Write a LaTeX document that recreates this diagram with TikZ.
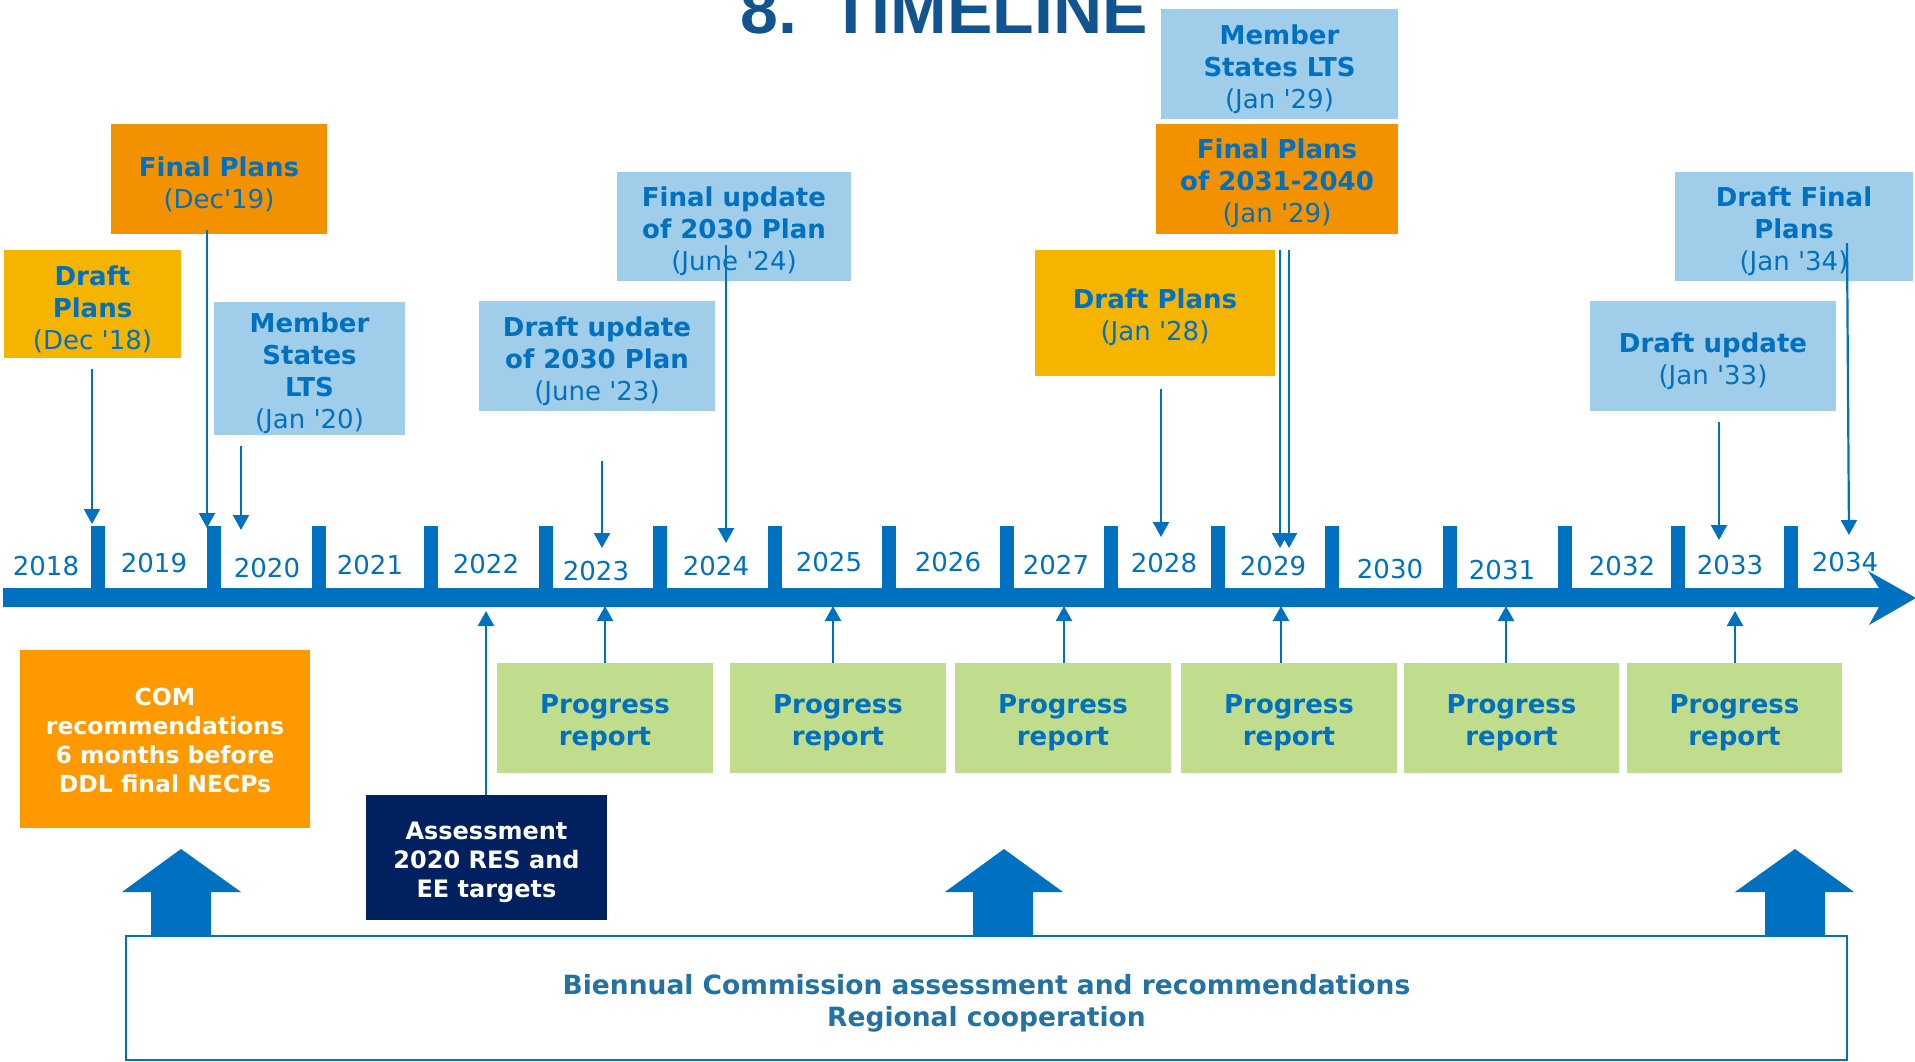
\documentclass[tikz,border=0pt]{standalone}
\usepackage{fontspec}
\setmainfont{DejaVu Sans}
\newfontfamily\titlefont{Liberation Sans}
\usetikzlibrary{arrows.meta}
\definecolor{tblue}{HTML}{0070C0}
\definecolor{ttitle}{HTML}{11548F}
\definecolor{tbien}{HTML}{2471A3}
\definecolor{cyellow}{HTML}{F4B400}
\definecolor{corange}{HTML}{F39200}
\definecolor{ccom}{HTML}{FF9900}
\definecolor{clblue}{HTML}{9FCDEA}
\definecolor{cgreen}{HTML}{BFDD8C}
\definecolor{cnavy}{HTML}{002060}
\newcommand{\myq}{\textquotesingle}
\newcommand{\sh}[1]{\rule{0pt}{#1pt}}
\tikzset{
  box/.style={rectangle, inner sep=0pt, align=center, text=tblue,
    font=\fontsize{26}{32}\selectfont},
  ybox/.style={box, fill=cyellow},
  obox/.style={box, fill=corange},
  lbbox/.style={box, fill=clblue},
  gbox/.style={box, fill=cgreen},
  wbox/.style={rectangle, inner sep=0pt, align=center, text=white,
    font=\bfseries\fontsize{24}{29}\selectfont},
  yr/.style={inner sep=0pt, anchor=base, text=tblue, font=\fontsize{26}{30}\selectfont},
  tick/.style={fill=tblue},
  thinarrow/.style={draw=tblue, line width=2.2pt, -{Triangle[width=16pt,length=15pt]}},
  bigarrow/.style={fill=tblue},
}
\begin{document}
\begin{tikzpicture}[x=1pt,y=-1pt]
\useasboundingbox (0,0) rectangle (1915,1061);

% title
\node[inner sep=0pt, anchor=base west, text=ttitle, font=\titlefont\bfseries\fontsize{68}{70}\selectfont]
  (title) at (740,33) {8. \kern8pt TIMELINE};

% timeline bar with arrow head
\path[fill=tblue] (3,588) -- (1879,588) -- (1868,571) -- (1916,598) -- (1869,625) -- (1879,607) -- (3,607) -- cycle;

% ticks
\foreach \x in {98,214,319,431,546,660,775,889,1007,1111,1218,1332,1450,1565,1678,1791}
  \path[tick] (\x-7,526) rectangle (\x+7,588);

% years
\node[yr] (y2018) at (46,575) {2018};
\node[yr] (y2019) at (154,572) {2019};
\node[yr] (y2020) at (267,577) {2020};
\node[yr] (y2021) at (370,574) {2021};
\node[yr] (y2022) at (486,573) {2022};
\node[yr] (y2023) at (596,580) {2023};
\node[yr] (y2024) at (716,575) {2024};
\node[yr] (y2025) at (829,571) {2025};
\node[yr] (y2026) at (948,571) {2026};
\node[yr] (y2027) at (1056,574) {2027};
\node[yr] (y2028) at (1164,572) {2028};
\node[yr] (y2029) at (1273,575) {2029};
\node[yr] (y2030) at (1390,578) {2030};
\node[yr] (y2031) at (1502,579) {2031};
\node[yr] (y2032) at (1622,575) {2032};
\node[yr] (y2033) at (1730,574) {2033};
\node[yr] (y2034) at (1845,571) {2034};

% upper boxes
\node[ybox, minimum width=177pt, minimum height=108pt] (dp18) at (92.5,304)
  {\sh{30}\bfseries Draft\\\bfseries Plans\\(Dec \myq18)};
\node[obox, minimum width=216pt, minimum height=110pt] (fp19) at (219,179)
  {\sh{30}\bfseries Final Plans\\(Dec\myq19)};
\node[lbbox, minimum width=191pt, minimum height=133pt] (ms20) at (309.5,368.5)
  {\sh{30}\bfseries Member\\\bfseries States\\\bfseries LTS\\(Jan \myq20)};
\node[lbbox, minimum width=236pt, minimum height=110pt] (du23) at (597,356)
  {\sh{30}\bfseries Draft update\\\bfseries of 2030 Plan\\(June \myq23)};
\node[lbbox, minimum width=234pt, minimum height=109pt] (fu24) at (734,226.5)
  {\sh{30}\bfseries Final update\\\bfseries of 2030 Plan\\(June \myq24)};
\node[lbbox, minimum width=237pt, minimum height=110pt] (ms29) at (1279.5,64)
  {\sh{30}\bfseries Member\\\bfseries States LTS\\(Jan \myq29)};
\node[obox, minimum width=242pt, minimum height=110pt] (fp29) at (1277,179)
  {\sh{29}\bfseries Final Plans\\\bfseries of 2031-2040\\(Jan \myq29)};
\node[ybox, minimum width=240pt, minimum height=126pt] (dp28) at (1155,313)
  {\sh{28}\bfseries Draft Plans\\(Jan \myq28)};
\node[lbbox, minimum width=238pt, minimum height=109pt] (dfp34) at (1794,226.5)
  {\sh{30}\bfseries Draft Final\\\bfseries Plans\\(Jan \myq34)};
\node[lbbox, minimum width=246pt, minimum height=110pt] (du33) at (1713,356)
  {\sh{30}\bfseries Draft update\\(Jan \myq33)};

% down arrows
\coordinate (s1) at (92,369);   \coordinate (t1) at (92,524);
\coordinate (t2) at (207,528);
\coordinate (s3) at (241,446);  \coordinate (t3) at (241,530);
\coordinate (s4) at (602,461);  \coordinate (t4) at (602,548);
\coordinate (s5) at (726,245);  \coordinate (t5) at (726,543);
\coordinate (s6) at (1161,389); \coordinate (t6) at (1161,537);
\coordinate (s7) at (1280,250); \coordinate (t7) at (1280,548);
\coordinate (s8) at (1289,250); \coordinate (t8) at (1289,548);
\coordinate (s9) at (1719,422); \coordinate (t9) at (1719,540);
\coordinate (s10) at (1847,243); \coordinate (t10) at (1849,535);
\draw[thinarrow] (s1) -- (t1);
\draw[thinarrow] ([yshift=4pt]fp19.south -| t2) -- (t2);
\draw[thinarrow] (s3) -- (t3);
\draw[thinarrow] (s4) -- (t4);
\draw[thinarrow] (s5) -- (t5);
\draw[thinarrow] (s6) -- (t6);
\draw[thinarrow] (s7) -- (t7);
\draw[thinarrow] (s8) -- (t8);
\draw[thinarrow] (s9) -- (t9);
\draw[thinarrow] (s10) -- (t10);

% lower boxes
\node[gbox, minimum width=216pt, minimum height=110pt] (p1) at (605,718) {\sh{29}\bfseries Progress\\\bfseries report};
\node[gbox, minimum width=216pt, minimum height=110pt] (p2) at (838,718) {\sh{29}\bfseries Progress\\\bfseries report};
\node[gbox, minimum width=216pt, minimum height=110pt] (p3) at (1063,718) {\sh{29}\bfseries Progress\\\bfseries report};
\node[gbox, minimum width=216pt, minimum height=110pt] (p4) at (1289,718) {\sh{29}\bfseries Progress\\\bfseries report};
\node[gbox, minimum width=215pt, minimum height=110pt] (p5) at (1511.5,718) {\sh{29}\bfseries Progress\\\bfseries report};
\node[gbox, minimum width=215pt, minimum height=110pt] (p6) at (1734.5,718) {\sh{29}\bfseries Progress\\\bfseries report};

\node[wbox, fill=ccom, minimum width=290pt, minimum height=178pt,
  font=\bfseries\fontsize{23.5}{29}\selectfont] (com) at (165,739)
  {\sh{21}COM\\recommendations\\6 months before\\DDL final NECPs};
\node[wbox, fill=cnavy, minimum width=241pt, minimum height=125pt] (asmt) at (486.5,857.5)
  {\sh{27}Assessment\\2020 RES and\\EE targets};

% up arrows
\coordinate (ua) at (486,611);
\coordinate (u1) at (605,606);
\coordinate (u2) at (833,606);
\coordinate (u3) at (1064,606);
\coordinate (u4) at (1281,606);
\coordinate (u5) at (1506,606);
\coordinate (u6) at (1735,611);
\draw[thinarrow] (asmt.north -| ua) -- (ua);
\draw[thinarrow] (p1.north -| u1) -- (u1);
\draw[thinarrow] (p2.north -| u2) -- (u2);
\draw[thinarrow] (p3.north -| u3) -- (u3);
\draw[thinarrow] (p4.north -| u4) -- (u4);
\draw[thinarrow] (p5.north -| u5) -- (u5);
\draw[thinarrow] (p6.north -| u6) -- (u6);

% bottom box
\node[rectangle, draw=tblue, line width=1.6pt, fill=white, inner sep=0pt,
  minimum width=1721pt, minimum height=124pt, align=center, text=tbien,
  font=\bfseries\fontsize{26.5}{32}\selectfont] (bien) at (986.5,998)
  {\sh{30}Biennual Commission assessment and recommendations\\Regional cooperation};

% big arrows
\path[bigarrow] (151,936) -- (151,892) -- (122,892) -- (181,849) -- (241,892) -- (211,892) -- (211,936) -- cycle;
\path[bigarrow] (973,936) -- (973,892) -- (945,892) -- (1004,849) -- (1063,892) -- (1033,892) -- (1033,936) -- cycle;
\path[bigarrow] (1765,936) -- (1765,892) -- (1735,892) -- (1795,849) -- (1854,892) -- (1825,892) -- (1825,936) -- cycle;
\end{tikzpicture}
\end{document}
